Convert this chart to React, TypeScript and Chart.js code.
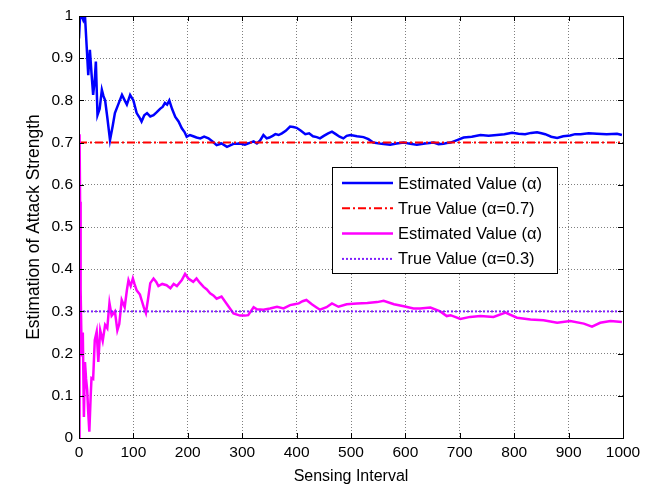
import React, { useEffect, useRef } from "react";
import { Chart, registerables } from "chart.js";

Chart.register(...registerables);

const blueX = [0, 2, 5, 8, 11, 14, 17, 20, 23, 26, 29, 31, 34, 38, 42, 45, 48, 52, 57, 62, 66, 72, 79, 84, 88, 94, 100, 106, 111, 115, 120, 125, 131, 137, 143, 149, 154, 158, 162, 166, 171, 177, 183, 189, 194, 198, 204, 210, 216, 223, 230, 238, 246, 253, 262, 272, 284, 296, 305, 315, 321, 327, 333, 339, 345, 350, 356, 361, 367, 373, 380, 388, 394, 400, 408, 416, 423, 430, 437, 443, 450, 458, 465, 472, 479, 486, 492, 499, 511, 523, 532, 541, 556, 572, 584, 597, 609, 621, 636, 652, 661, 670, 676, 683, 695, 707, 722, 738, 753, 768, 782, 796, 808, 820, 831, 842, 850, 857, 868, 879, 890, 903, 912, 922, 937, 952, 970, 989, 998];
const blueY = [0.947, 1.0, 1.0, 0.99, 1.0, 0.93, 0.86, 0.92, 0.864, 0.813, 0.85, 0.892, 0.765, 0.78, 0.825, 0.81, 0.8, 0.76, 0.706, 0.74, 0.77, 0.79, 0.813, 0.8, 0.79, 0.813, 0.8, 0.77, 0.76, 0.75, 0.765, 0.77, 0.762, 0.765, 0.772, 0.78, 0.785, 0.794, 0.79, 0.8, 0.78, 0.761, 0.75, 0.734, 0.725, 0.714, 0.718, 0.715, 0.712, 0.71, 0.714, 0.71, 0.702, 0.694, 0.698, 0.69, 0.697, 0.698, 0.695, 0.7, 0.703, 0.698, 0.705, 0.718, 0.71, 0.712, 0.716, 0.72, 0.718, 0.722, 0.728, 0.738, 0.737, 0.735, 0.728, 0.72, 0.722, 0.715, 0.713, 0.71, 0.716, 0.722, 0.726, 0.72, 0.714, 0.71, 0.716, 0.718, 0.715, 0.713, 0.708, 0.7, 0.697, 0.695, 0.698, 0.7, 0.697, 0.695, 0.698, 0.7, 0.696, 0.697, 0.699, 0.7, 0.706, 0.712, 0.714, 0.718, 0.716, 0.718, 0.72, 0.7235, 0.721, 0.72, 0.723, 0.7245, 0.722, 0.72, 0.714, 0.711, 0.715, 0.717, 0.72, 0.72, 0.722, 0.721, 0.72, 0.721, 0.718];

const magentaX = [0, 1, 2, 3, 5, 7, 9, 11, 13, 15, 17, 19, 21.5, 23, 26, 29, 32.5, 35.5, 39, 43.6, 48, 52, 56, 60, 66, 70.5, 74, 78.5, 84, 88, 91, 95, 99, 102, 106, 112, 115, 119, 123, 127, 131, 137, 142, 146, 153, 161, 168, 174, 180, 189, 195, 201, 210, 216, 222, 229, 235, 241, 247, 253, 262, 272, 284, 296, 305, 311, 321, 327, 339, 351, 364, 376, 388, 396, 404, 411, 418, 428, 436, 443, 455, 465, 477, 492, 511, 530, 548, 560, 579, 597, 615, 627, 646, 664, 676, 683, 701, 719, 738, 762, 784, 805, 830, 854, 879, 903, 928, 943, 958, 977, 998];
const magentaY = [0.0, 0.72, 0.56, 0.35, 0.193, 0.25, 0.05, 0.18, 0.14, 0.114, 0.06, 0.015, 0.1, 0.142, 0.14, 0.232, 0.252, 0.18, 0.255, 0.23, 0.268, 0.26, 0.32, 0.29, 0.3, 0.255, 0.27, 0.327, 0.31, 0.35, 0.374, 0.36, 0.378, 0.365, 0.35, 0.34, 0.327, 0.31, 0.296, 0.33, 0.367, 0.378, 0.37, 0.36, 0.365, 0.362, 0.355, 0.365, 0.36, 0.374, 0.389, 0.378, 0.37, 0.378, 0.368, 0.358, 0.352, 0.343, 0.338, 0.33, 0.335, 0.317, 0.295, 0.29, 0.29, 0.291, 0.31, 0.305, 0.304, 0.307, 0.311, 0.307, 0.315, 0.317, 0.319, 0.324, 0.327, 0.317, 0.31, 0.304, 0.31, 0.319, 0.311, 0.317, 0.319, 0.32, 0.322, 0.325, 0.317, 0.312, 0.307, 0.307, 0.309, 0.3, 0.289, 0.291, 0.282, 0.287, 0.289, 0.287, 0.297, 0.285, 0.281, 0.279, 0.273, 0.277, 0.271, 0.264, 0.273, 0.277, 0.275];

const trueX = [0, 1000];
const trueHigh = [0.7, 0.7];
const trueLow = [0.3, 0.3];

const legendLabels = ["Estimated Value (\u03B1)", "True Value (\u03B1=0.7)", "Estimated Value (\u03B1)", "True Value (\u03B1=0.3)"];
const xTitle = "Sensing Interval";
const yTitle = "Estimation of Attack Strength";

const FONT = "'Liberation Sans', Arial, sans-serif";

const pts = (xs: number[], ys: number[]) => xs.map((x, i) => ({ x, y: ys[i] }));

const framePlugin = {
  id: "frame",
  afterDatasetsDraw(chart: any) {
    const { ctx, chartArea: a, scales } = chart;
    ctx.save();
    ctx.strokeStyle = "#000";
    ctx.lineWidth = 1;
    ctx.beginPath();
    const xs = scales.x, ys = scales.y;
    xs.ticks.forEach((t: any) => {
      const p = Math.round(xs.getPixelForValue(t.value)) + 0.5;
      ctx.moveTo(p, a.bottom); ctx.lineTo(p, a.bottom - 5);
      ctx.moveTo(p, a.top); ctx.lineTo(p, a.top + 5);
    });
    ys.ticks.forEach((t: any) => {
      const p = Math.round(ys.getPixelForValue(t.value)) + 0.5;
      ctx.moveTo(a.left, p); ctx.lineTo(a.left + 5, p);
      ctx.moveTo(a.right, p); ctx.lineTo(a.right - 5, p);
    });
    ctx.stroke();
    ctx.strokeRect(Math.round(a.left) + 0.5, Math.round(a.top) + 0.5, Math.round(a.right - a.left), Math.round(a.bottom - a.top));
    ctx.restore();
  },
  afterDraw(chart: any) {
    const { ctx } = chart;
    const bx = 332, by = 167, bw = 225, bh = 106;
    ctx.save();
    ctx.fillStyle = "#fff";
    ctx.fillRect(bx, by, bw, bh);
    ctx.strokeStyle = "#000";
    ctx.lineWidth = 1;
    ctx.strokeRect(bx + 0.5, by + 0.5, bw, bh);
    ctx.font = `16.5px ${FONT}`;
    ctx.textBaseline = "middle";
    chart.data.datasets.forEach((ds: any, i: number) => {
      const y = by + 16 + i * 25.3;
      ctx.strokeStyle = ds.borderColor;
      ctx.lineWidth = ds.borderWidth;
      ctx.setLineDash(ds.borderDash || []);
      ctx.beginPath();
      ctx.moveTo(bx + 10, y);
      ctx.lineTo(bx + 61, y);
      ctx.stroke();
      ctx.setLineDash([]);
      ctx.fillStyle = "#000";
      ctx.fillText(legendLabels[i], bx + 66, y + 1);
    });
    ctx.restore();
  },
};

export default function App() {
  const ref = useRef<HTMLCanvasElement>(null);
  useEffect(() => {
    if (!ref.current) return;
    const chart = new Chart(ref.current, {
      type: "line",
      data: {
        datasets: [
          { data: pts(blueX, blueY), borderColor: "#0000ff", borderWidth: 2.5, pointRadius: 0, order: 4, tension: 0 },
          { data: pts(trueX, trueHigh), borderColor: "#ff0000", borderWidth: 2, borderDash: [8, 3, 2, 3], pointRadius: 0, order: 3 },
          { data: pts(magentaX, magentaY), borderColor: "#ff00ff", borderWidth: 2.5, pointRadius: 0, order: 2, tension: 0 },
          { data: pts(trueX, trueLow), borderColor: "#7f1fff", borderWidth: 2, borderDash: [2, 2], pointRadius: 0, order: 1 },
        ],
      },
      options: {
        animation: false,
        responsive: false,
        layout: { padding: { left: 24, top: 16, right: 33, bottom: 0 } },
        plugins: { legend: { display: false }, tooltip: { enabled: false } },
        scales: {
          x: {
            type: "linear",
            min: 0,
            max: 1000,
            ticks: { stepSize: 100, color: "#000", font: { family: FONT, size: 15.5 }, padding: 5, maxRotation: 0, callback: (v: any) => String(v) },
            grid: { color: "rgba(0,0,0,0.5)", drawTicks: false, tickLength: 0 },
            border: { display: false, dash: [1, 2] },
            title: { display: true, text: xTitle, color: "#000", font: { family: FONT, size: 16 }, padding: { top: 0, bottom: 0 } },
            afterFit: (s: any) => { s.height = 48; },
          },
          y: {
            type: "linear",
            min: 0,
            max: 1,
            ticks: {
              stepSize: 0.1,
              color: "#000",
              font: { family: FONT, size: 15.5 },
              padding: 6,
              callback: (v: any) => String(Number(Number(v).toFixed(1))),
            },
            grid: { color: "rgba(0,0,0,0.5)", drawTicks: false, tickLength: 0 },
            border: { display: false, dash: [1, 2] },
            title: { display: true, text: yTitle, color: "#000", font: { family: FONT, size: 17.5 }, padding: { top: 0, bottom: 0 } },
            afterFit: (s: any) => { s.width = 79 - 24; },
          },
        },
      },
      plugins: [framePlugin],
    });
    return () => chart.destroy();
  }, []);
  return (
    <div style={{ position: "absolute", left: 0, top: 0, width: 656, height: 486, background: "#fff" }}>
      <canvas ref={ref} width={656} height={486} style={{ display: "block" }} />
    </div>
  );
}
